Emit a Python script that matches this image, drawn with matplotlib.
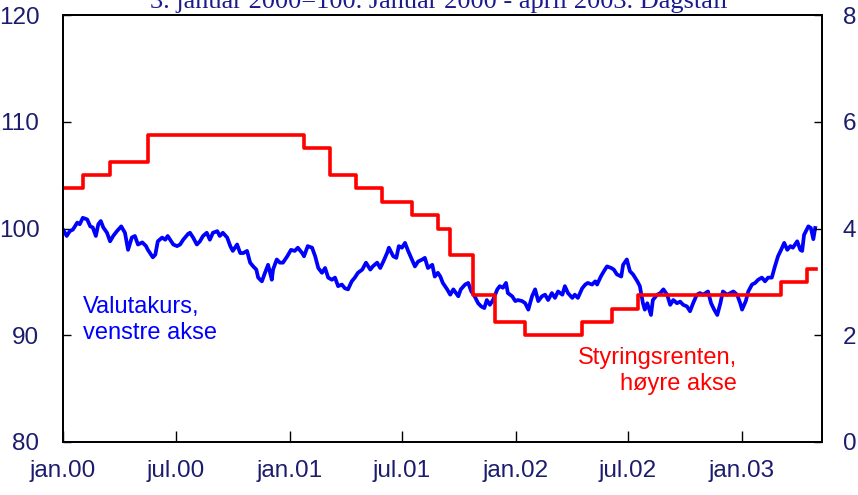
import datetime as dt
import matplotlib
matplotlib.use("Agg")
import matplotlib.pyplot as plt

# ---- data ----
start = dt.date(2000, 1, 1)
fx_days = [0, 6, 11, 16, 23, 27, 32, 39, 44, 48, 53, 57, 61, 65, 71, 76, 81, 87, 94, 100,
           105, 111, 116, 121, 128, 134, 137, 145, 149, 153, 160, 165, 169, 178, 184, 189, 194, 202,
           205, 210, 216, 221, 226, 232, 237, 242, 249, 253, 258, 265, 270, 274, 281, 286, 291, 297,
           302, 307, 312, 315, 321, 326, 331, 337, 339, 345, 350, 355, 362, 368, 374, 379, 386, 389, 395,
           402, 407, 412, 418, 423, 428, 434, 439, 444, 450, 455, 460, 466, 471, 476, 483, 489, 496, 500,
           507, 512, 517, 523, 526, 533, 538, 542, 547, 552, 557, 563, 568, 573, 580, 584, 589, 596, 600, 605,
           609, 613, 620, 625, 630, 638, 642, 649, 654, 659, 663, 670, 675, 680, 684, 689, 694, 701, 705,
           710, 715, 718, 725, 730, 734, 741, 746, 751, 757, 762, 767, 773, 778, 783, 789, 794, 799, 806,
           810, 815, 822, 826, 831, 838, 843, 847, 854, 859, 862, 868, 873, 878, 885, 889, 894, 901, 904,
           910, 915, 920, 927, 931, 936, 939, 943, 949, 952, 959, 964, 969, 975, 980, 985, 991, 996, 1001,
           1007, 1012, 1017, 1023, 1028, 1033, 1041, 1046, 1051, 1056, 1061, 1065, 1072, 1077, 1082, 1088,
           1093, 1096, 1102, 1106, 1112, 1117, 1122, 1128, 1133, 1138, 1144, 1149, 1154, 1159, 1164, 1169,
           1174, 1178, 1185, 1190, 1193, 1196, 1203, 1207, 1211, 1214]
fx_values = [99.9, 99.3, 99.75, 99.9, 100.55, 100.4, 101.0, 100.85, 100.2, 100.1, 99.3, 100.4, 100.7, 100.1,
             99.6, 98.8, 99.3, 99.75, 100.2, 99.6, 98.0, 99.15, 99.3, 98.5, 98.7, 98.35, 98.0, 97.3, 97.55,
             98.8, 99.15, 98.95, 99.3, 98.5, 98.35, 98.5, 98.95, 99.5,
             99.6, 99.15, 98.5, 98.8, 99.3, 99.6, 98.95, 99.6, 99.75, 99.3, 99.6, 99.15, 98.35, 97.9, 98.5,
             97.7, 97.7, 97.9, 96.8, 96.45, 96.15, 95.4, 95.05, 95.85, 96.6, 95.2, 96.15, 97.1, 96.8, 96.8,
             97.4, 98.0, 97.9, 98.2, 97.7, 97.4, 98.35,
             98.2, 97.4, 96.3, 95.85, 96.3, 95.4, 95.2, 95.4, 94.6, 94.75, 94.4, 94.3, 95.05, 95.4, 95.85,
             96.15, 96.8, 96.15, 96.45, 96.8, 96.3, 96.9, 97.7, 98.2, 97.4, 97.25, 98.35, 98.2, 98.65, 97.9,
             97.1, 96.45, 96.9, 97.1, 97.25, 96.3, 96.6, 95.5, 95.85,
             95.5, 94.9, 94.3, 93.8, 94.3, 93.65, 94.3, 94.75, 94.9, 94.1, 93.8, 93.0, 92.7, 92.55, 93.3,
             92.85, 93.3, 94.3, 94.6, 94.45, 94.9, 93.95, 93.65, 93.2, 93.3, 93.2, 93.0, 92.4, 93.65, 94.3,
             93.2, 93.65, 93.8, 93.3, 93.95, 93.5, 94.1, 93.8,
             94.6, 93.95, 93.5, 93.8, 93.5, 94.4, 94.75, 94.9, 94.75, 95.05, 94.75, 95.5, 96.0, 96.45, 96.3,
             96.15, 95.7, 95.5, 96.6, 97.1, 96.0, 95.7, 95.05, 94.6, 93.0, 92.4, 93.0, 91.9, 93.3, 93.8,
             93.95, 94.3, 93.8, 92.85, 93.3, 93.0, 93.15, 92.85,
             92.7, 92.25, 93.0, 93.8, 93.95, 93.8, 94.1, 93.0, 92.4, 91.9, 93.0, 94.1, 93.8, 93.95, 94.1,
             93.8, 93.0, 92.4, 93.2, 94.1, 94.75, 94.9, 95.2, 95.4, 95.05, 95.4, 95.4, 96.45, 97.4, 98.0,
             98.65, 98.0, 98.35, 98.2, 98.8, 98.0, 97.9, 99.4, 100.2, 100.05, 99.0, 100.05]

rate_dates = ["2000-01-01", "2000-02-03", "2000-03-17", "2000-05-17", "2001-01-24", "2001-03-07",
              "2001-04-18", "2001-05-30", "2001-07-18", "2001-08-29", "2001-09-17", "2001-10-24",
              "2001-11-28", "2002-01-16", "2002-04-17", "2002-06-05", "2002-07-17", "2003-03-05",
              "2003-04-16", "2003-04-30"]
rate_values = [4.75, 5.0, 5.25, 5.75, 5.5, 5.0, 4.75, 4.5, 4.25, 4.0, 3.5, 2.75, 2.25, 2.0, 2.25,
               2.5, 2.75, 3.0, 3.25, 3.25]

tick_dates = ["2000-01-01", "2000-07-01", "2001-01-01", "2001-07-01", "2002-01-01", "2002-07-01", "2003-01-01"]
tick_labels = ["jan.00", "jul.00", "jan.01", "jul.01", "jan.02", "jul.02", "jan.03"]
left_ticks = [80, 90, 100, 110, 120]
right_ticks = [0, 2, 4, 6, 8]

title = "3. januar 2000=100. Januar 2000 - april 2003. Dagstall"

# ---- plot ----
plt.rcParams['font.family'] = ['Liberation Sans', 'DejaVu Sans']
navy = '#1c1c6e'
tick_size = 17.5

fig = plt.figure(figsize=(8.58, 4.95), dpi=100)
ax = fig.add_axes([63/858, 1-442/495, 759/858, 427/495])
ax2 = ax.twinx()

fx_x = [start + dt.timedelta(days=d) for d in fx_days]
ax.plot(fx_x, fx_values, color='#0000ff', lw=2.7, solid_joinstyle='round')

r_x = [dt.datetime.strptime(s, "%Y-%m-%d").date() for s in rate_dates]
ax2.step(r_x, rate_values, where='post', color='#ff0000', lw=2.6)

ax.set_xlim(dt.date(2000, 1, 1), dt.date(2003, 5, 10))
ax.set_ylim(80, 120)
ax2.set_ylim(0, 8)

t_x = [dt.datetime.strptime(s, "%Y-%m-%d").date() for s in tick_dates]
ax.set_xticks(t_x)
ax.set_xticklabels(tick_labels)
ax.set_yticks(left_ticks)
ax.set_yticklabels([str(v) for v in left_ticks])
ax2.set_yticks(right_ticks)
ax2.set_yticklabels([str(v) for v in right_ticks])

for a in (ax, ax2):
    for s in a.spines.values():
        s.set_linewidth(1.3)
        s.set_color('black')

ax.tick_params(axis='x', direction='in', length=8, width=1, pad=13, labelsize=tick_size, labelcolor=navy)
ax.tick_params(axis='y', direction='in', length=6, width=1, pad=17, labelsize=tick_size, labelcolor=navy)
ax2.tick_params(axis='y', direction='in', length=6, width=1, pad=15, labelsize=tick_size, labelcolor=navy)

ax.text(0.026, 0.286, "Valutakurs,\nvenstre akse", transform=ax.transAxes, color='#0000ff',
        fontsize=17, ha='left', va='center', linespacing=1.25)
ax2.text(0.888, 0.166, "Styringsrenten,\nhøyre akse", transform=ax.transAxes, color='#ff0000',
         fontsize=17, ha='right', va='center', multialignment='right', linespacing=1.25)

fig.text(0.512, 1 - 8/495, title, family=['Liberation Serif', 'DejaVu Serif'], fontsize=19,
         color='#1a1a8c', ha='center', va='baseline')

fig.savefig("out.png", dpi=100)
